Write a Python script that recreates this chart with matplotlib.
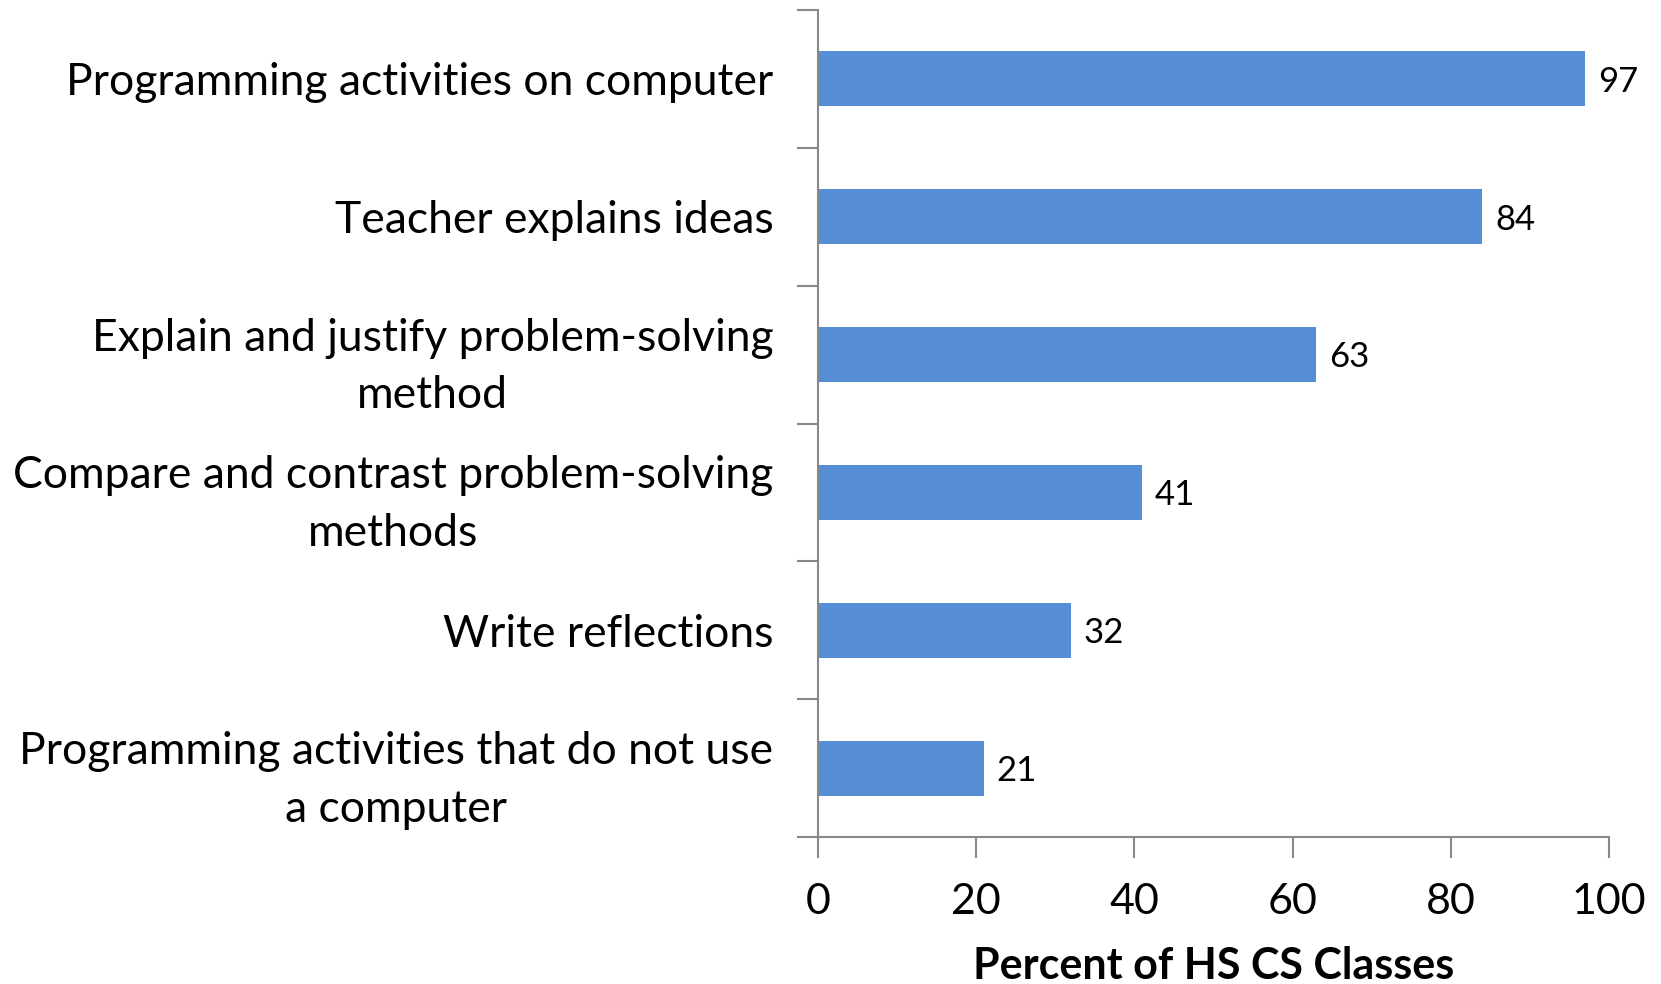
import matplotlib.pyplot as plt
import numpy as np

categories = [
    "Programming activities on computer",
    "Teacher explains ideas",
    "Explain and justify problem-solving\nmethod",
    "Compare and contrast problem-solving\nmethods",
    "Write reflections",
    "Programming activities that do not use\na computer",
]
values = [97, 84, 63, 41, 32, 21]
xticks = [0, 20, 40, 60, 80, 100]

plt.rcParams['font.family'] = ['Lato', 'DejaVu Sans']

fig = plt.figure(figsize=(16.61, 9.84), dpi=100)
ax = fig.add_axes([818 / 1661, 1 - 837 / 984, (1609 - 818) / 1661, (837 - 10) / 984])

y = np.arange(len(categories))
ax.barh(y, values, height=0.4, color='#558ed5')
ax.set_ylim(len(categories) - 0.5, -0.5)
ax.set_xlim(0, 100)

for yi, v in zip(y, values):
    ax.text(v + 1.6, yi + 0.02, str(v), va='center', ha='left', fontsize=25)

# category labels sit between the ticks, like Excel
ax.set_yticks(np.arange(-0.5, len(categories), 1.0))
ax.set_yticklabels([])
ax.set_yticks(y, minor=True)
ax.set_yticklabels(categories, minor=True, fontsize=32, ha='right',
                   multialignment='center', linespacing=1.5)
for lab in ax.get_yticklabels(minor=True):
    lab.set_va('center_baseline')
ax.tick_params(axis='y', which='minor', length=0, pad=32)
ax.tick_params(axis='y', which='major', length=15, width=1.5, color='#888888')

ax.set_xticks(xticks)
ax.set_xticklabels([str(t) for t in xticks], fontsize=31)
ax.tick_params(axis='x', length=15, width=1.5, color='#888888', pad=18)
ax.set_xlabel("Percent of HS CS Classes", fontsize=31, fontweight='bold', labelpad=18)

for s in ['top', 'right']:
    ax.spines[s].set_visible(False)
for s in ['left', 'bottom']:
    ax.spines[s].set_color('#888888')
    ax.spines[s].set_linewidth(1.5)

fig.savefig('out.png', dpi=100)
